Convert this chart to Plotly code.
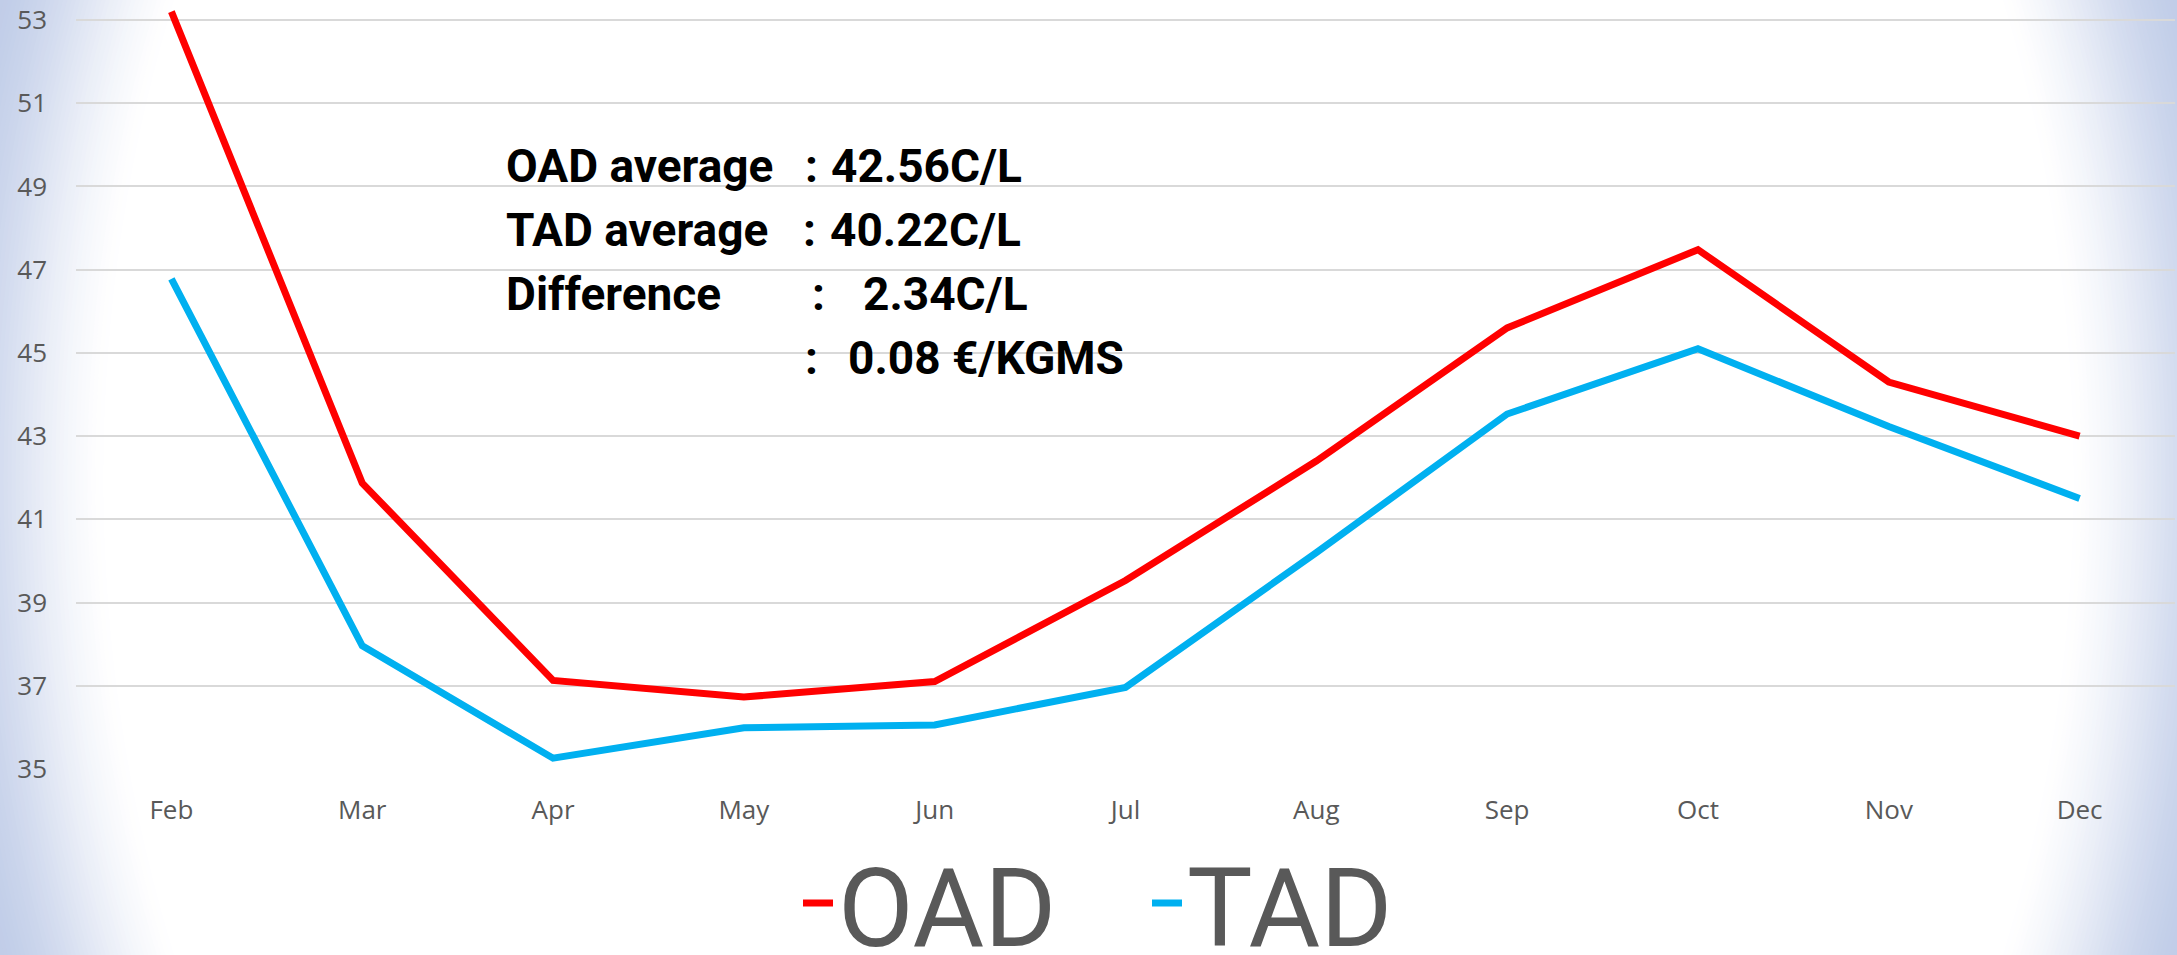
import plotly.graph_objects as go

months = ["Feb", "Mar", "Apr", "May", "Jun", "Jul", "Aug", "Sep", "Oct", "Nov", "Dec"]
oad = [53.20, 41.87, 37.13, 36.73, 37.10, 39.53, 42.40, 45.60, 47.48, 44.30, 43.00]
tad = [46.78, 37.96, 35.26, 35.99, 36.06, 36.96, 40.20, 43.53, 45.10, 43.23, 41.50]
y_ticks = [35, 37, 39, 41, 43, 45, 47, 49, 51, 53]
note_labels = ["OAD average", "TAD average", "Difference", ""]
note_values = ["42.56C/L", "40.22C/L", "2.34C/L", "0.08 €/KGMS"]

W, H = 2177, 955
ML, MR, MT, MB = 76, 2, 0, 186
PW, PH = W - ML - MR, H - MT - MB


def px_to_paper(px, py):
    return (px - ML) / PW, (H - MB - py) / PH


fig = go.Figure()
fig.add_trace(go.Scatter(x=months, y=oad, mode="lines", name="OAD",
                         line=dict(color="#FF0000", width=7)))
fig.add_trace(go.Scatter(x=months, y=tad, mode="lines", name="TAD",
                         line=dict(color="#00B0F0", width=7)))

# radial background gradient built from concentric ellipses
shapes = []
cx, cy = W / 2, H / 2
ax_, ay_ = W / 2, 1418
edge = (193, 205, 232)
r_out, r_in = 1.07, 0.905
N = 45
for k in range(N + 1):
    r = r_out - (r_out - r_in) * k / N
    t = min(1.0, (r - r_in) / (1.055 - r_in))
    t = t * t * (3 - 2 * t) * 0.6 + t * 0.4
    col = tuple(int(round(255 + (e - 255) * t)) for e in edge)
    x0, y0 = px_to_paper(cx - ax_ * r, cy + ay_ * r)
    x1, y1 = px_to_paper(cx + ax_ * r, cy - ay_ * r)
    shapes.append(dict(type="circle", xref="paper", yref="paper", x0=x0, x1=x1, y0=y0, y1=y1,
                       fillcolor="rgb(%d,%d,%d)" % col, line=dict(width=0), layer="below"))

annotations = []
note_font = dict(family="Roboto", size=46, color="#000000", weight="bold")
label_x = 504
colon_x = [811, 809, 818, 811]
value_x = [829, 828, 861, 846]
line_y = [166, 230, 294, 358]
for lab, val, cxp, vxp, ly in zip(note_labels, note_values, colon_x, value_x, line_y):
    xp, yp = px_to_paper(label_x, ly)
    if lab:
        annotations.append(dict(text=lab, x=xp, y=yp, xref="paper", yref="paper",
                                xanchor="left", yanchor="middle", showarrow=False, font=note_font))
    xc, _ = px_to_paper(cxp, ly)
    annotations.append(dict(text=":", x=xc, y=yp, xref="paper", yref="paper",
                            xanchor="center", yanchor="middle", showarrow=False, font=note_font))
    xv, _ = px_to_paper(vxp, ly)
    annotations.append(dict(text=val, x=xv, y=yp, xref="paper", yref="paper",
                            xanchor="left", yanchor="middle", showarrow=False, font=note_font))

lx, ly = px_to_paper(798, 903)
fig.update_layout(
    width=W, height=H,
    margin=dict(l=ML, r=MR, t=MT, b=MB, pad=0, autoexpand=False),
    paper_bgcolor="rgb(%d,%d,%d)" % edge,
    plot_bgcolor="rgba(0,0,0,0)",
    shapes=shapes,
    annotations=annotations,
    showlegend=True,
    legend=dict(orientation="h", x=lx, y=ly, xanchor="left", yanchor="middle",
                font=dict(family="Roboto", size=110, color="#595959"),
                bgcolor="rgba(0,0,0,0)", itemwidth=30, entrywidth=304, tracegroupgap=0),
    font=dict(family="Open Sans", color="#595959"),
)
fig.update_xaxes(showgrid=False, zeroline=False, showline=False, ticks="",
                 tickfont=dict(size=26, color="#595959", family="Open Sans"),
                 ticklabelstandoff=23, range=[-0.5, 10.5])
fig.update_yaxes(range=[35, 53.48], tickvals=y_ticks, showgrid=True, gridcolor="#D9D9D9",
                 gridwidth=2, zeroline=False, showline=False, ticks="",
                 tickfont=dict(size=26, color="#595959", family="Open Sans"),
                 ticklabelstandoff=28)
fig.write_html("out.html", config={"displayModeBar": False},
               post_script="document.body.style.margin='0';document.body.style.overflow='hidden';")
